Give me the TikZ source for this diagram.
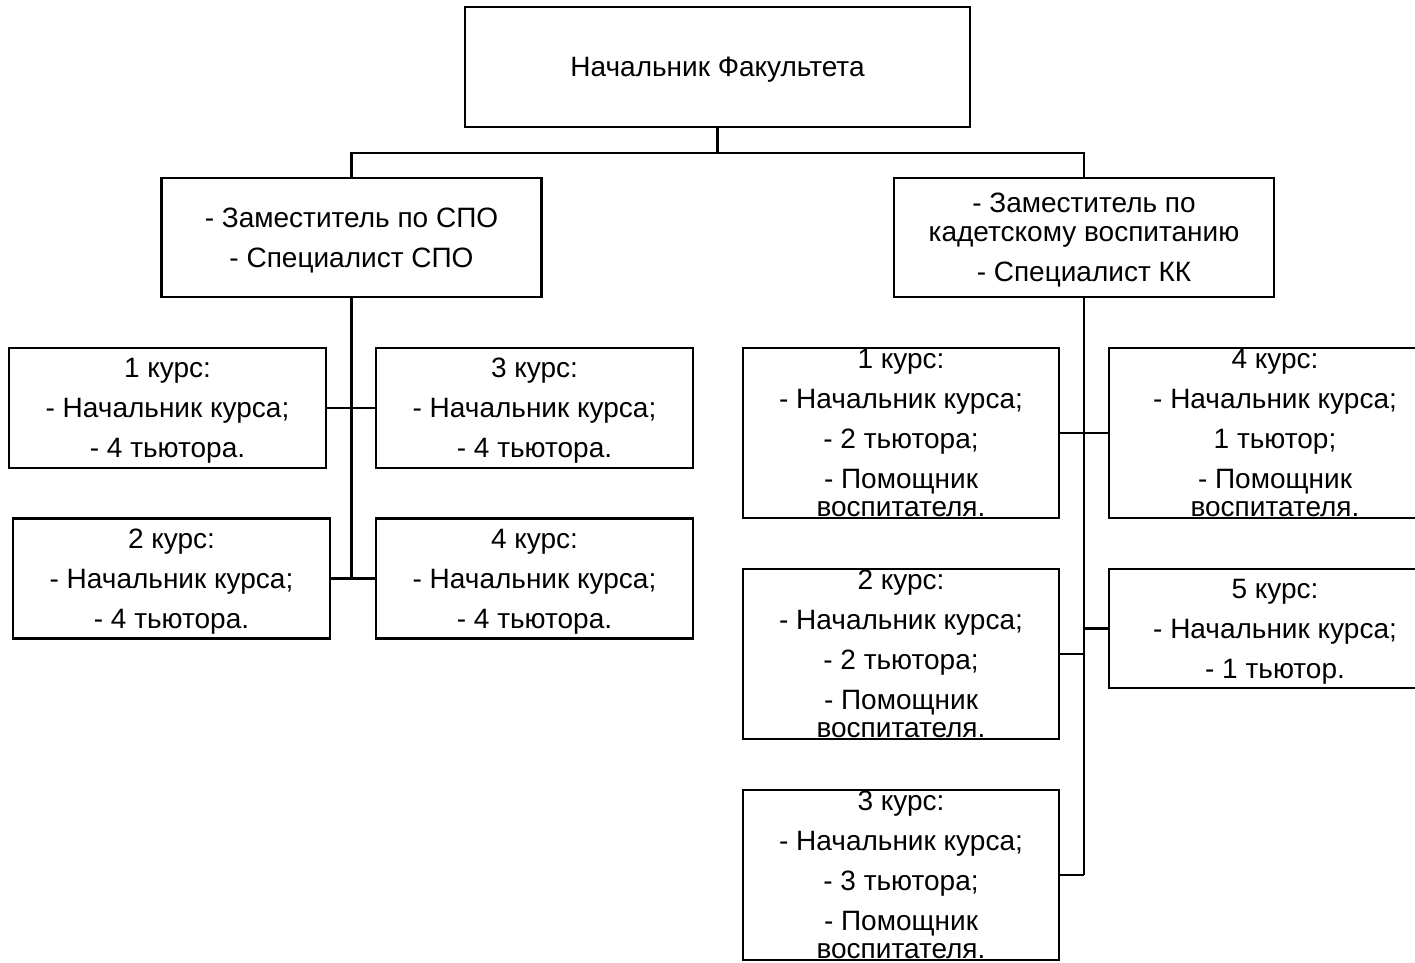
\documentclass[tikz,border=0pt]{standalone}
\usepackage{fontspec}
\setmainfont{Liberation Sans}
\usetikzlibrary{positioning}

\begin{document}
\begin{tikzpicture}[x=0.75pt,y=-0.75pt,
    box/.style={draw,line width=1.75pt,inner sep=0pt,align=center,text depth=0pt,font=\fontsize{21}{30}\selectfont},
    zam/.style={box,minimum width=285pt,minimum height=89.25pt},
    kurs/.style={box,minimum width=238pt,minimum height=90pt},
    kursv/.style={box,minimum width=237pt,minimum height=127.5pt},
    txt/.style={inner sep=0pt,align=center,font=\fontsize{21}{30}\selectfont},
    line/.style={line width=1.75pt}]
  \clip (0,0) rectangle (1415,963);
  \node[box,minimum width=378.75pt,minimum height=90pt](nach) at (717.5,67){Начальник Факультета};
  \node[zam](zspo) at (351.5,237.5){- Заместитель по СПО\\- Специалист СПО};
  \node[zam](zkk) at (1084,237.5){- Заместитель по\\[-8.5pt]кадетскому воспитанию\\- Специалист КК};

  \node[kurs](l1) at (167.5,408){1 курс:\\- Начальник курса;\\- 4 тьютора.};
  \node[kurs](l2) at (171.5,578.5){2 курс:\\- Начальник курса;\\- 4 тьютора.};
  \node[kurs](l3) at (534.5,408){3 курс:\\- Начальник курса;\\- 4 тьютора.};
  \node[kurs](l4) at (534.5,578.5){4 курс:\\- Начальник курса;\\- 4 тьютора.};

  \node[kursv](r1) at (901,433){};
  \node[txt](r1t) at (r1){1 курс:\\- Начальник курса;\\- 2 тьютора;\\- Помощник\\[-9.5pt]воспитателя.};
  \node[kursv](r2) at (901,654){};
  \node[txt](r2t) at (r2){2 курс:\\- Начальник курса;\\- 2 тьютора;\\- Помощник\\[-9.5pt]воспитателя.};
  \node[kursv](r3) at (901,875){};
  \node[txt](r3t) at (r3){3 курс:\\- Начальник курса;\\- 3 тьютора;\\- Помощник\\[-9.5pt]воспитателя.};
  \node[kursv,minimum width=249pt](r4) at (1275,433){};
  \node[txt](r4t) at (r4){4 курс:\\- Начальник курса;\\1 тьютор;\\- Помощник\\[-9.5pt]воспитателя.};
  \node[kurs,minimum width=249pt,minimum height=89.25pt](r5) at (1275,628.5){5 курс:\\- Начальник курса;\\- 1 тьютор.};

  \draw[line] (nach.south) -- ++(0,25) -| (zspo.north);
  \draw[line] (nach.south) -- ++(0,25) -| (zkk.north);
  \draw[line] (zspo.south) -- (zspo.south |- l2.east);
  \draw[line] (l1.east) -- (l3.west);
  \draw[line] (l2.east) -- (l4.west);
  \draw[line] (zkk.south) -- (zkk.south |- r3.east);
  \draw[line] (r1.east) -- (r4.west);
  \draw[line] (r2.east) -- (r2.east -| zkk.south);
  \draw[line] (r5.west) -- (r5.west -| zkk.south);
  \draw[line] (r3.east) -- (r3.east -| zkk.south);
\end{tikzpicture}
\end{document}
